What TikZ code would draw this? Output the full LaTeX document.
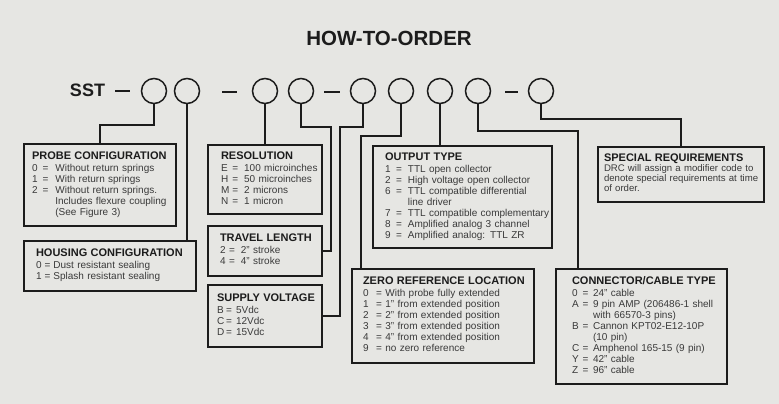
\documentclass[tikz,border=0pt]{standalone}
\usepackage{fontspec}
\setmainfont{Liberation Sans}
\usepackage{xcolor}
\usetikzlibrary{positioning, calc}
\definecolor{paper}{HTML}{E6E6E3}
\definecolor{ink}{HTML}{1C1C1C}
\definecolor{greytext}{HTML}{3A3A3A}

\newcommand{\headfont}{\fontsize{11}{11}\selectfont\bfseries\color{ink}}
\newcommand{\bodyfont}{\fontsize{10}{11}\selectfont}
% heading, then rows "code & = & meaning"
\newcommand{\optlist}[4]{%
  \begin{tabular}{@{}l@{\hspace{#2}}c@{\hspace{#3}}l@{}}
    \multicolumn{3}{@{}l@{}}{\headfont #1}\\[1pt]
    #4
  \end{tabular}}

\tikzset{
  digit/.style={circle, draw=ink, line width=1.5pt, minimum size=25pt, inner sep=0pt},
  optbox/.style={draw=ink, line width=2.4pt, fill=paper, anchor=north west,
                 align=left, outer sep=0pt, inner ysep=0pt, font=\bodyfont, text=greytext},
  wire/.style={draw=ink, line width=1.5pt},
  bar/.style={draw=ink, line width=2pt}
}

\begin{document}
\begin{tikzpicture}[x=1pt, y=-1pt]
  \fill[paper] (0,0) rectangle (779,404);
  \useasboundingbox (0,0) rectangle (779,404);

  \node[font=\fontsize{20.5}{24}\selectfont\bfseries, text=ink] (title) at (389,38) {HOW-TO-ORDER};
  \node[font=\fontsize{18}{20}\selectfont\bfseries, text=ink] (sst) at (87.5,90) {SST};

  % code positions
  \foreach \n/\x in {1/154, 2/187, 3/265, 4/301, 5/363, 6/401, 7/440, 8/478, 9/541}
    \node[digit] (c\n) at (\x,91) {};
  \draw[bar] (115,91) -- (130,91);
  \draw[bar] (222,92) -- (237,92);
  \draw[bar] (324,92) -- (340,92);
  \draw[bar] (505,92) -- (518,92);

  % option boxes
  \node[optbox, inner xsep=8pt, text width=136pt, minimum height=82pt] (probe) at (24,144)
    {\optlist{PROBE CONFIGURATION}{5pt}{7pt}{%
      0 & = & Without return springs\\
      1 & = & With return springs\\
      2 & = & Without return springs.\\
        &   & Includes flexure coupling\\
        &   & (See Figure 3)}};
  \node[optbox, inner xsep=12pt, text width=148pt, minimum height=50pt] (housing) at (24,241)
    {\optlist{HOUSING CONFIGURATION}{3pt}{3pt}{%
      0 & = & Dust resistant sealing\\
      1 & = & Splash resistant sealing}};
  \node[optbox, inner xsep=13pt, text width=88pt, minimum height=69pt] (resol) at (208,145)
    {\optlist{RESOLUTION}{3pt}{6pt}{%
      E & = & 100 microinches\\
      H & = & 50 microinches\\
      M & = & 2 microns\\
      N & = & 1 micron}};
  \node[optbox, inner xsep=12pt, text width=90pt, minimum height=50pt] (travel) at (208,226)
    {\optlist{TRAVEL LENGTH}{3.5pt}{6pt}{%
      2 & = & 2" stroke\\
      4 & = & 4" stroke}};
  \node[optbox, inner xsep=9pt, text width=96pt, minimum height=62pt] (supply) at (208,285)
    {\optlist{SUPPLY VOLTAGE}{2pt}{4pt}{%
      B & = & 5Vdc\\
      C & = & 12Vdc\\
      D & = & 15Vdc}};
  \node[optbox, inner xsep=12pt, text width=155pt, minimum height=102pt] (output) at (373,146)
    {\optlist{OUTPUT TYPE}{5.5pt}{6pt}{%
      1 & = & TTL open collector\\
      2 & = & High voltage open collector\\
      6 & = & TTL compatible differential\\
        &   & line driver\\
      7 & = & TTL compatible complementary\\
      8 & = & Amplified analog 3 channel\\
      9 & = & Amplified analog: TTL ZR}};
  \node[optbox, inner xsep=11pt, text width=160pt, minimum height=94pt] (zero) at (352,269)
    {\optlist{ZERO REFERENCE LOCATION}{7.5pt}{3.5pt}{%
      0 & = & With probe fully extended\\
      1 & = & 1" from extended position\\
      2 & = & 2" from extended position\\
      3 & = & 3" from extended position\\
      4 & = & 4" from extended position\\
      9 & = & no zero reference}};
  \node[optbox, inner xsep=6pt, text width=154pt, minimum height=55pt,
        font=\fontsize{9.6}{10}\selectfont] (special) at (598,147)
    {\begin{tabular}{@{}l@{}}
      {\headfont SPECIAL REQUIREMENTS}\\
      DRC will assign a modifier code to\\
      denote special requirements at time\\
      of order.
    \end{tabular}};
  \node[optbox, inner xsep=16pt, text width=139pt, minimum height=115pt] (cable) at (556,269)
    {\optlist{CONNECTOR/CABLE TYPE}{3.5pt}{4.5pt}{%
      0 & = & 24" cable\\
      A & = & 9 pin AMP (206486-1 shell\\
        &   & with 66570-3 pins)\\
      B & = & Cannon KPT02-E12-10P\\
        &   & (10 pin)\\
      C & = & Amphenol 165-15 (9 pin)\\
      Y & = & 42" cable\\
      Z & = & 96" cable}};

  % leaders from code positions to boxes
  \draw[wire] (c1.south) -- ++(0,20.5) -| (probe.north);
  \draw[wire] (c2.south) -- (c2.south |- housing.north);
  \draw[wire] (c3.south) -- (c3.south |- resol.north);
  \draw[wire] (c4.south) -- ++(0,22.5) -| ([xshift=9pt]travel.east) -- (travel.east);
  \draw[wire] (c5.south) -- ++(0,22.5) -| ([xshift=18pt]supply.east) -- (supply.east);
  \draw[wire] (c6.south) -- ++(0,31.5) -| ([xshift=9pt]zero.north west);
  \draw[wire] (c7.south) -- (c7.south |- output.north);
  \draw[wire] (c8.south) -- ++(0,26.5) -| ([xshift=22pt]cable.north west);
  \draw[wire] (c9.south) -- ++(0,14.5) -| (special.north);
\end{tikzpicture}
\end{document}
